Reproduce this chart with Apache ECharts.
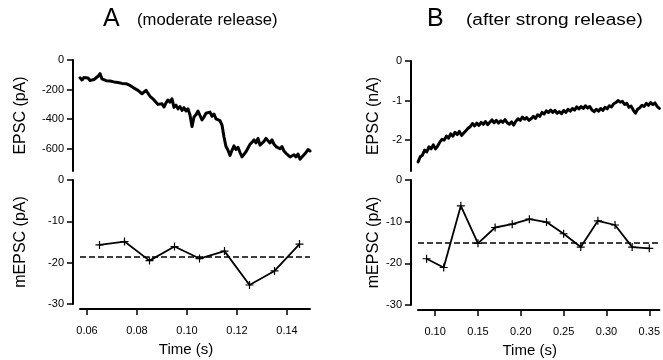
<!DOCTYPE html>
<html>
<head>
<meta charset="utf-8">
<script src="https://cdn.jsdelivr.net/npm/echarts@6/dist/echarts.min.js"></script>
<style>html,body{margin:0;padding:0;background:#fff}#c{width:663px;height:360px}</style>
</head>
<body>
<div id="c"></div>
<script>
// ---- Panel A (moderate release) ----
// EPSC trace (pA), sampled every traceA_dt seconds starting at traceA_t0
const traceA_t0 = 0.0572;
const traceA_dt = 0.0008;
const traceA = [-120,-135,-118,-130,-122,-138,-125,-132,-120,-110,-92,-128,-118,-140,-128,-142,-130,-148,-138,-152,
 -142,-158,-148,-160,-155,-172,-165,-190,-180,-205,-200,-228,-215,-205,-198,-245,-238,-270,-262,-300,
 -310,-295,-318,-290,-270,-285,-262,-320,-305,-330,-315,-340,-322,-345,-330,-372,-450,-385,-370,-345,
 -375,-405,-385,-360,-372,-352,-380,-365,-398,-385,-410,-440,-520,-585,-610,-645,-610,-580,-605,-590,
 -625,-655,-665,-620,-595,-570,-555,-540,-560,-530,-575,-580,-550,-530,-545,-560,-540,-570,-585,-572,
 -600,-585,-615,-630,-620,-655,-665,-640,-655,-635,-670,-680,-640,-625,-605,-615];
// mEPSC amplitudes (pA)
const mTimeA = [0.065,0.075,0.085,0.095,0.105,0.115,0.125,0.135,0.145];
const mEpscA = [-15.7,-14.9,-19.5,-16.1,-19.0,-17.2,-25.4,-22.0,-15.5];
const meanA = -18.5;
const xTicksA = [0.06,0.08,0.10,0.12,0.14];
const yTicksTopA = [0,-200,-400,-600];

// ---- Panel B (after strong release) ----
const traceB_t0 = 0.0801;
const traceB_dt = 0.0025;
const traceB = [-2.55,-2.42,-2.38,-2.25,-2.30,-2.17,-2.22,-2.12,-2.22,-2.15,-2.05,-1.98,-2.00,-1.90,-1.95,-1.84,-1.90,-1.80,-1.86,-1.78,
 -1.88,-1.82,-1.76,-1.70,-1.66,-1.58,-1.64,-1.57,-1.63,-1.55,-1.60,-1.53,-1.61,-1.55,-1.49,-1.56,-1.50,-1.57,-1.51,-1.55,
 -1.48,-1.56,-1.60,-1.54,-1.62,-1.52,-1.46,-1.50,-1.42,-1.47,-1.43,-1.50,-1.46,-1.40,-1.45,-1.36,-1.40,-1.30,-1.34,-1.26,
 -1.30,-1.24,-1.30,-1.25,-1.32,-1.28,-1.33,-1.25,-1.30,-1.22,-1.27,-1.20,-1.24,-1.16,-1.21,-1.15,-1.20,-1.13,-1.19,-1.15,
 -1.24,-1.28,-1.22,-1.27,-1.20,-1.25,-1.17,-1.21,-1.13,-1.16,-1.08,-1.05,-1.00,-1.04,-1.02,-1.10,-1.07,-1.17,-1.14,-1.24,
 -1.32,-1.22,-1.18,-1.12,-1.15,-1.07,-1.12,-1.05,-1.10,-1.06,-1.15,-1.20];
const mTimeB = [0.09,0.11,0.13,0.15,0.17,0.19,0.21,0.23,0.25,0.27,0.29,0.31,0.33,0.35];
const mEpscB = [-18.9,-21.0,-6.2,-15.2,-11.4,-10.6,-9.4,-10.1,-12.9,-16.1,-9.8,-10.8,-16.1,-16.4];
const meanB = -15.0;
const xTicksB = [0.10,0.15,0.20,0.25,0.30,0.35];
const yTicksTopB = [0,-1,-2];
const yTicksBottom = [0,-10,-20,-30];

const FONT = 'Liberation Sans, Arial, Helvetica, sans-serif';
const toPairs = (t0, dt, arr) => arr.map((v, i) => [t0 + i * dt, v]);
const plus = 'path://M-0.6,-4H0.6V-0.6H4V0.6H0.6V4H-0.6V0.6H-4V-0.6H-0.6Z';

function yAxis(gi, min, max, ticks, name, gap) {
  return {
    type: 'value', gridIndex: gi, min: min, max: max, offset: 7,
    name: name, nameLocation: 'middle', nameGap: gap,
    nameTextStyle: {fontFamily: FONT, fontSize: 16, color: '#000'},
    axisLine: {show: true, lineStyle: {color: '#000', width: 2}},
    axisTick: {show: true, length: 6, lineStyle: {color: '#000', width: 1.5}, customValues: ticks},
    axisLabel: {fontFamily: FONT, fontSize: 11, color: '#000', margin: 9, customValues: ticks},
    splitLine: {show: false}
  };
}
function xAxis(gi, min, max, ticks, show) {
  return {
    type: 'value', gridIndex: gi, min: min, max: max, show: show, offset: 5,
    name: show ? 'Time (s)' : '', nameLocation: 'middle', nameGap: 33,
    nameTextStyle: {fontFamily: FONT, fontSize: 15, color: '#000', padding: [0, 18, 0, 0]},
    axisLine: {show: true, onZero: false, lineStyle: {color: '#000', width: 2}},
    axisTick: {show: true, length: 6, lineStyle: {color: '#000', width: 1.5}, customValues: ticks},
    axisLabel: {fontFamily: FONT, fontSize: 11, color: '#000', margin: 16, customValues: ticks,
      formatter: v => v.toFixed(2)},
    splitLine: {show: false}
  };
}
function mean(val) {
  return {silent: true, symbol: 'none', label: {show: false},
    lineStyle: {color: '#000', type: [6, 3], width: 1.5}, data: [{yAxis: val}]};
}

const chart = echarts.init(document.getElementById('c'), null, {renderer: 'canvas'});
chart.setOption({
  animation: false,
  backgroundColor: '#fff',
  graphic: [
    {type: 'text', x: 103, y: 7, style: {text: 'A', font: '25px ' + FONT, fill: '#000'}},
    {type: 'text', x: 137, y: 13, scaleX: 1.04, style: {text: '(moderate release)', font: '16px ' + FONT, fill: '#000'}},
    {type: 'text', x: 427, y: 7, style: {text: 'B', font: '25px ' + FONT, fill: '#000'}},
    {type: 'text', x: 466, y: 13, scaleX: 1.19, style: {text: '(after strong release)', font: '16px ' + FONT, fill: '#000'}}
  ],
  grid: [
    {left: 80, top: 60, width: 230, height: 111},
    {left: 80, top: 180, width: 230, height: 124},
    {left: 418, top: 61, width: 245, height: 110},
    {left: 418, top: 180, width: 245, height: 125}
  ],
  xAxis: [
    xAxis(0, 0.0572, 0.1492, xTicksA, false),
    xAxis(1, 0.0572, 0.1492, xTicksA, true),
    xAxis(2, 0.0800, 0.3618, xTicksB, false),
    xAxis(3, 0.0800, 0.3618, xTicksB, true)
  ],
  yAxis: [
    yAxis(0, -750, 0, yTicksTopA, 'EPSC (pA)', 44),
    yAxis(1, -30, 0, yTicksBottom, 'mEPSC (pA)', 44),
    yAxis(2, -2.78, 0, yTicksTopB, 'EPSC (nA)', 29),
    yAxis(3, -30, 0, yTicksBottom, 'mEPSC (pA)', 29)
  ],
  series: [
    {type: 'line', xAxisIndex: 0, yAxisIndex: 0, data: toPairs(traceA_t0, traceA_dt, traceA),
      showSymbol: false, lineStyle: {color: '#000', width: 3, join: 'round', cap: 'round'}},
    {type: 'line', xAxisIndex: 1, yAxisIndex: 1, data: mTimeA.map((t, i) => [t, mEpscA[i]]),
      symbol: plus, symbolSize: 8, itemStyle: {color: '#000'}, lineStyle: {color: '#000', width: 1.8},
      markLine: mean(meanA)},
    {type: 'line', xAxisIndex: 2, yAxisIndex: 2, data: toPairs(traceB_t0, traceB_dt, traceB),
      showSymbol: false, lineStyle: {color: '#000', width: 3, join: 'round', cap: 'round'}},
    {type: 'line', xAxisIndex: 3, yAxisIndex: 3, data: mTimeB.map((t, i) => [t, mEpscB[i]]),
      symbol: plus, symbolSize: 8, itemStyle: {color: '#000'}, lineStyle: {color: '#000', width: 1.8},
      markLine: mean(meanB)}
  ]
});
</script>
</body>
</html>
